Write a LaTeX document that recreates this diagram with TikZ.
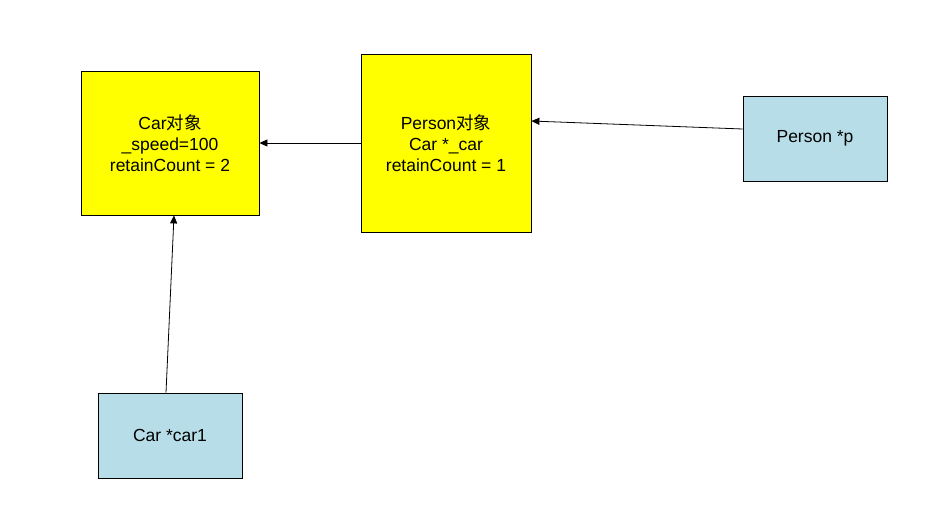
\documentclass[tikz,border=0pt]{standalone}
\usepackage{fontspec}
\setmainfont{Liberation Sans}
\newfontfamily\cjk{Noto Sans CJK SC}
\usetikzlibrary{arrows.meta}
\definecolor{objyellow}{HTML}{FFFF00}
\definecolor{ptrblue}{HTML}{B7DEE8}
\begin{document}
\begin{tikzpicture}[x=1pt,y=-1pt,
  box/.style={draw=black, line width=0.8pt, inner sep=0pt, align=center,
    font=\fontsize{17.5}{21}\selectfont},
  objbox/.style={box, fill=objyellow},
  ptrbox/.style={box, fill=ptrblue},
  conn/.style={draw=black, line width=0.8pt, -{Triangle[length=8pt,width=7pt]}}]
\useasboundingbox (0,0) rectangle (934,520);
\node[objbox, minimum width=178pt, minimum height=144pt] (carobj) at (170,143) {Car{\cjk 对象}\\\_speed=100\\retainCount = 2};
\node[objbox, minimum width=170pt, minimum height=178pt] (personobj) at (446,143) {Person{\cjk 对象}\\Car *\_car\\retainCount = 1};
\node[ptrbox, minimum width=144pt, minimum height=85pt] (pptr) at (815,138.5) {Person *p};
\node[ptrbox, minimum width=144pt, minimum height=85pt] (carptr) at (170,435.5) {Car *car1};
\draw[conn] (personobj.west) -- (carobj.east);
\draw[conn] ([yshift=9.5pt]pptr.west) -- ([yshift=22pt]personobj.east);
\draw[conn] ([xshift=-4pt]carptr.north) -- ([xshift=4pt]carobj.south);
\end{tikzpicture}
\end{document}
